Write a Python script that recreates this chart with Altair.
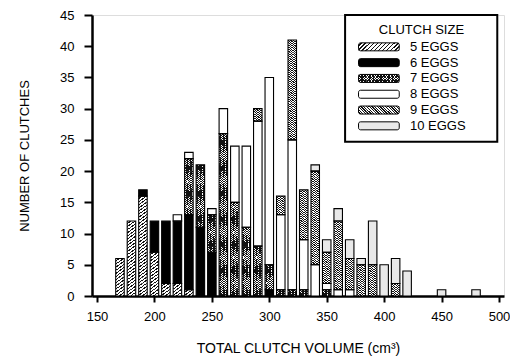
import altair as alt
import pandas as pd

# ---- data ----
volume_bins = [170, 180, 190, 200, 210, 220, 230, 240, 250, 260, 270, 280, 290, 300,
               310, 320, 330, 340, 350, 360, 370, 380, 390, 400, 410, 420, 450, 480]
eggs5 = [6, 12, 16, 7, 2, 2, 1, 0, 0, 0, 0, 0, 0, 0, 0, 0, 0, 0, 0, 0, 0, 0, 0, 0, 0, 0, 0, 0]
eggs6 = [0, 0, 1, 5, 10, 10, 12, 11, 7, 0, 0, 0, 0, 1, 0, 0, 0, 0, 0, 0, 0, 0, 0, 0, 0, 0, 0, 0]
eggs7 = [0, 0, 0, 0, 0, 0, 9, 10, 6, 26, 15, 11, 8, 4, 1, 1, 1, 0, 1, 0, 0, 0, 0, 0, 0, 0, 0, 0]
eggs8 = [0, 0, 0, 0, 0, 1, 1, 0, 1, 4, 9, 13, 20, 30, 12, 24, 8, 5, 1, 1, 1, 0, 0, 0, 0, 0, 0, 0]
eggs9 = [0, 0, 0, 0, 0, 0, 0, 0, 0, 0, 0, 0, 2, 0, 3, 16, 8, 15, 5, 11, 5, 5, 5, 0, 2, 0, 0, 0]
eggs10 = [0, 0, 0, 0, 0, 0, 0, 0, 0, 0, 0, 0, 0, 0, 0, 0, 0, 1, 2, 2, 3, 1, 7, 5, 4, 4, 1, 1]
clutch_sizes = [5, 6, 7, 8, 9, 10]
legend_labels = ["5 EGGS", "6 EGGS", "7 EGGS", "8 EGGS", "9 EGGS", "10 EGGS"]
x_ticks = [150, 200, 250, 300, 350, 400, 450, 500]
y_ticks = [0, 5, 10, 15, 20, 25, 30, 35, 40, 45]

series = dict(zip(clutch_sizes, [eggs5, eggs6, eggs7, eggs8, eggs9, eggs10]))

seg_rows, unit_rows = [], []
for size, counts in series.items():
    for v, c in zip(volume_bins, counts):
        if c > 0:
            seg_rows.append({"volume": v, "eggs": size, "count": c})
            for k in range(c):
                unit_rows.append({"volume": v, "eggs": size, "one": 1, "ord": size * 100 + k})
seg_df = pd.DataFrame(seg_rows)
unit_df = pd.DataFrame(unit_rows)

leg_rows = []
for i, (size, lab) in enumerate(zip(clutch_sizes, legend_labels)):
    for cell in range(5):
        leg_rows.append({"eggs": size, "row": i, "cell": cell, "label": lab})
leg_df = pd.DataFrame(leg_rows)


# ---- fills: hatching via striped gradients ----
def stripes(period, dark, rising, ink="#111111", paper="white"):
    n = int(round(1 / period))
    stops = []
    for i in range(n):
        a = i * period
        m = a + period * (1 - dark)
        b = min(a + period, 1.0)
        stops += [{"offset": a, "color": paper}, {"offset": m, "color": paper},
                  {"offset": m, "color": ink}, {"offset": b, "color": ink}]
    x1, y1, x2, y2 = (0, 0, 1, 1) if rising else (0, 1, 1, 0)
    return {"gradient": "linear", "x1": x1, "y1": y1, "x2": x2, "y2": y2, "stops": stops}


CLEAR = "rgba(255,255,255,0)"
solid_fill = (
    alt.when(alt.datum.eggs == 6).then(alt.value("black"))
    .when(alt.datum.eggs == 10).then(alt.value("#e9e9e9"))
    .otherwise(alt.value("white"))
)
hatch_fill = (
    alt.when(alt.datum.eggs == 5).then(alt.value(stripes(0.25, 0.38, True)))
    .when(alt.datum.eggs == 7).then(alt.value(stripes(1 / 6, 0.45, True)))
    .otherwise(alt.value(stripes(1 / 6, 0.5, False)))
)
cross_fill = alt.value(stripes(1 / 6, 0.45, False, paper=CLEAR))
is_hatched = "datum.eggs == 5 || datum.eggs == 7 || datum.eggs == 9"

FONT = "Liberation Sans"
xscale = alt.Scale(domain=[150, 500], nice=False, zero=False)
yscale = alt.Scale(domain=[0, 45], nice=False)

xaxis = alt.Axis(values=x_ticks, title="TOTAL CLUTCH VOLUME (cm³)", grid=False,
                 labelFont=FONT, labelFontSize=13, labelColor="black", labelPadding=8,
                 titleFont=FONT, titleFontSize=14, titleFontWeight="normal",
                 titleColor="black", titlePadding=18, labelOverlap=False,
                 tickSize=6, tickWidth=2, tickColor="black",
                 domainColor="black", domainWidth=2.5, labelFlush=False)
yaxis = alt.Axis(values=y_ticks, title="NUMBER OF CLUTCHES", grid=False,
                 labelFont=FONT, labelFontSize=13, labelColor="black", labelPadding=10,
                 titleFont=FONT, titleFontSize=13, titleFontWeight="normal",
                 titleColor="black", titlePadding=28, labelOverlap=False,
                 tickSize=8, tickWidth=2, tickColor="black",
                 domainColor="black", domainWidth=2.5, labelFlush=False)


def X(field):
    return alt.X(field, scale=xscale, axis=xaxis)


def Y(field):
    return alt.Y(field, scale=yscale, axis=yaxis)


BAR_PX = 8.5

segs = alt.Chart(seg_df).transform_stack(
    stack="count", groupby=["volume"], as_=["s0", "s1"], sort=[alt.SortField("eggs")]
)
solid = segs.mark_bar(size=BAR_PX, strokeWidth=0).encode(
    x=X("volume:Q"), y=Y("s0:Q"), y2="s1:Q", fill=solid_fill,
)

units = alt.Chart(unit_df).transform_stack(
    stack="one", groupby=["volume"], as_=["y0", "y1"], sort=[alt.SortField("ord")]
)
hatch = units.transform_filter(is_hatched).mark_bar(size=BAR_PX, strokeWidth=0).encode(
    x=X("volume:Q"), y=Y("y0:Q"), y2="y1:Q", fill=hatch_fill,
)
cross = units.transform_filter("datum.eggs == 7").mark_bar(size=BAR_PX, strokeWidth=0).encode(
    x=X("volume:Q"), y=Y("y0:Q"), y2="y1:Q", fill=cross_fill,
)
outlines = segs.mark_bar(size=BAR_PX, fillOpacity=0, stroke="black", strokeWidth=1.1).encode(
    x=X("volume:Q"), y=Y("s0:Q"), y2="s1:Q",
)

# ---- legend drawn inside the plot, positioned in data units ----
box_df = pd.DataFrame({"k": [0]})
legend_box = alt.Chart(box_df).mark_rect(fill="white", stroke="black", strokeWidth=2).encode(
    x=alt.X(datum=366, scale=xscale, axis=xaxis), x2=alt.datum(498.5),
    y=alt.Y(datum=45, scale=yscale, axis=yaxis), y2=alt.datum(24.7)
)
legend_title = alt.Chart(box_df).mark_text(
    text="CLUTCH SIZE", font=FONT, fontSize=13, color="black", align="center", baseline="middle"
).encode(x=alt.X(datum=432.5, scale=xscale, axis=xaxis),
         y=alt.Y(datum=42.6, scale=yscale, axis=yaxis))

leg_base = alt.Chart(leg_df).transform_calculate(
    xa="377.7 + datum.cell * 7.09",
    xb="377.7 + (datum.cell + 1) * 7.09",
    xe="377.7 + 5 * 7.09",
    yc="39.9 - datum.row * 2.53",
    ya="39.9 - datum.row * 2.53 - 0.64",
    yb="39.9 - datum.row * 2.53 + 0.64",
)
leg_first = leg_base.transform_filter("datum.cell == 0")
leg_solid = leg_first.mark_rect(strokeWidth=0, cornerRadius=2).encode(
    x=X("xa:Q"), x2="xe:Q", y=Y("ya:Q"), y2="yb:Q", fill=solid_fill
)
leg_hatch = leg_base.transform_filter(is_hatched).mark_rect(strokeWidth=0).encode(
    x=X("xa:Q"), x2="xb:Q", y=Y("ya:Q"), y2="yb:Q", fill=hatch_fill
)
leg_cross = leg_base.transform_filter("datum.eggs == 7").mark_rect(strokeWidth=0).encode(
    x=X("xa:Q"), x2="xb:Q", y=Y("ya:Q"), y2="yb:Q", fill=cross_fill
)
leg_outline = leg_first.mark_rect(fillOpacity=0, stroke="black", strokeWidth=1, cornerRadius=2).encode(
    x=X("xa:Q"), x2="xe:Q", y=Y("ya:Q"), y2="yb:Q"
)
leg_text = leg_first.mark_text(
    font=FONT, fontSize=13, color="black", align="left", baseline="middle"
).encode(x=alt.X(datum=422.5, scale=xscale, axis=xaxis), y=Y("yc:Q"), text="label:N")

chart = alt.layer(
    solid, hatch, cross, outlines,
    legend_box, legend_title, leg_solid, leg_hatch, leg_cross, leg_outline, leg_text
).properties(
    width=412, height=281,
    padding={"left": 84, "top": 7, "right": 6, "bottom": 62},
    autosize="none",
).configure_view(stroke="black", strokeWidth=2).configure(background="white")

chart.save("out.html", embed_options={"renderer": "svg", "actions": False})
